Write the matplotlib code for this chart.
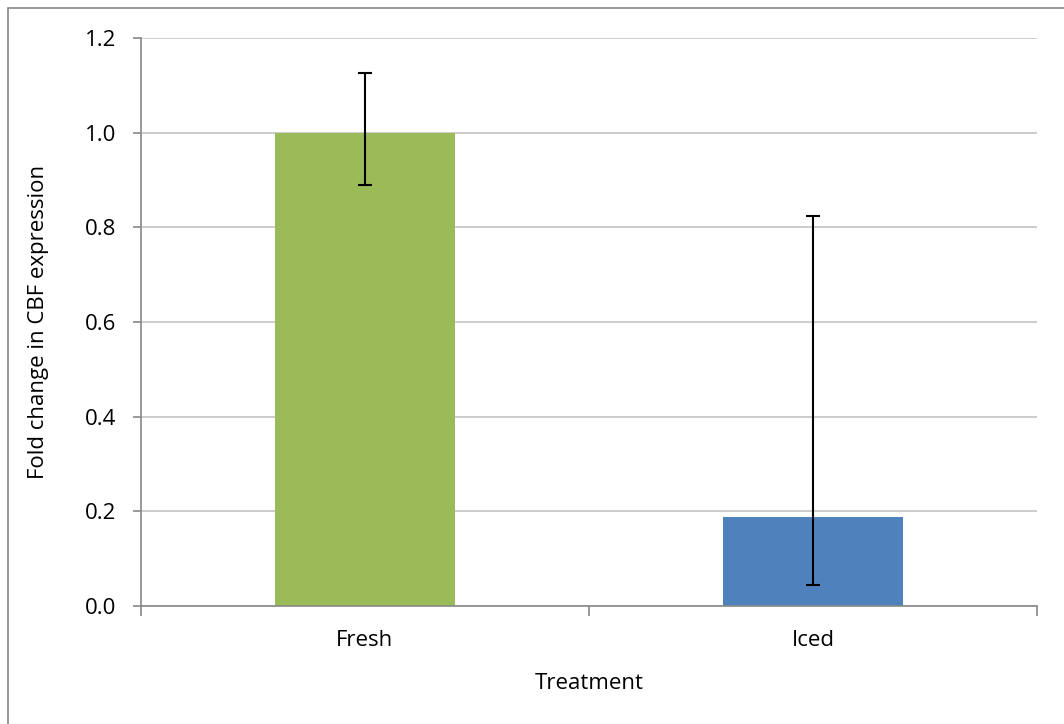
import matplotlib.pyplot as plt
from matplotlib.patches import Rectangle

treatments = ['Fresh', 'Iced']
fold_change = [1.0, 0.188]
err_low = [0.111, 0.144]
err_high = [0.126, 0.636]
bar_colors = ['#9BBB59', '#4F81BD']

plt.rcParams['font.family'] = ['Open Sans', 'DejaVu Sans']

fig = plt.figure(figsize=(10.64, 7.24), dpi=100)
ax = fig.add_axes([141/1064, 1 - 606/724, 896/1064, 568/724])

x = list(range(len(treatments)))
ax.bar(x, fold_change, width=0.4, color=bar_colors, zorder=2)
ax.errorbar(x, fold_change, yerr=[err_low, err_high], fmt='none',
            ecolor='black', elinewidth=1.5, capsize=5, capthick=1.5, zorder=3)

ax.set_xlim(-0.5, 1.5)
ax.set_ylim(0, 1.2)
ax.set_yticks([0, 0.2, 0.4, 0.6, 0.8, 1.0, 1.2])
ax.set_yticklabels(['{:.1f}'.format(v) for v in [0, 0.2, 0.4, 0.6, 0.8, 1.0, 1.2]])
ax.set_xticks(x)
ax.set_xticklabels(treatments)
ax.set_xticks([-0.5, 0.5, 1.5], minor=True)
ax.tick_params(axis='x', which='major', length=0, labelsize=16, pad=17)
ax.tick_params(axis='x', which='minor', length=7, color='#888888', width=1.2)
ax.tick_params(axis='y', length=6, color='#888888', width=1.2, labelsize=16, pad=12)
ax.grid(axis='y', color='#c4c4c4', linewidth=1.2, zorder=0)
ax.set_axisbelow(True)
for s in ['top', 'right']:
    ax.spines[s].set_visible(False)
for s in ['left', 'bottom']:
    ax.spines[s].set_color('#888888')
    ax.spines[s].set_linewidth(1.2)

ax.set_xlabel('Treatment', fontsize=16, labelpad=16)
ax.set_ylabel('Fold change in CBF expression', fontsize=16, labelpad=26)

fig.patches.append(Rectangle((8/1064, -0.1), 1.2, 1 - 8/724 + 0.1, transform=fig.transFigure,
                             fill=False, edgecolor='#888888', linewidth=1.2))

fig.savefig('out.png', dpi=100)
